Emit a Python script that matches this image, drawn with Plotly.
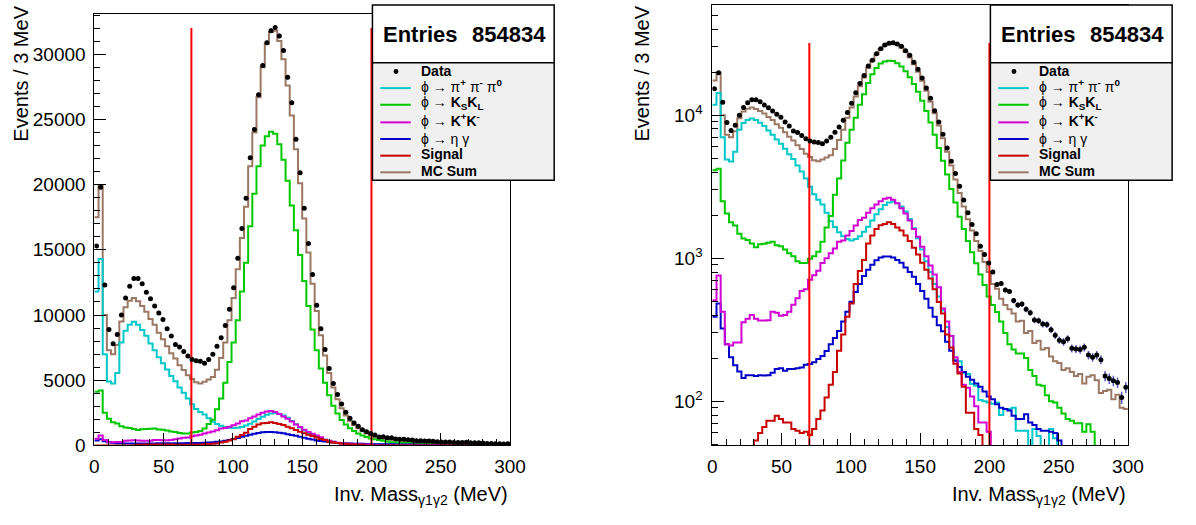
import numpy as np
import plotly.graph_objects as go

W, H = 1196, 525
BIN_WIDTH = 3.0          # MeV per bin
N_BINS = 100
ENTRIES = 854834
CUTS = [70, 200]         # MeV, vertical cut lines
CUT_TOP = 32000
LIN_MAX = 33100
LOG_MIN, LOG_MAX = 49, 59000
LIN_TICKS = [0, 5000, 10000, 15000, 20000, 25000, 30000]
X_TICKS = [0, 50, 100, 150, 200, 250, 300]
LOG_TICKS = [100, 1000, 10000]
LOG_TICK_TEXT = ["10<sup>2</sup>", "10<sup>3</sup>", "10<sup>4</sup>"]

# ---- data (events per 3 MeV bin, 0..300 MeV) ----
data_counts = [15300, 19800, 12300, 8900, 7800, 8500, 10000, 11300, 12200, 12800,
               12800, 12400, 11750, 11250, 10700, 10150, 9650, 8950, 8400, 7750,
               7550, 7200, 6850, 6600, 6500, 6450, 6300, 6600, 7000, 7600,
               8250, 9200, 10450, 12100, 14350, 16630, 18950, 22050, 24230, 26880,
               29130, 30880, 31800, 32050, 31400, 30280, 28230, 26280, 23480, 20900,
               18180, 15480, 13100, 10750, 8950, 7350, 5900, 4755, 3900, 3180,
               2550, 2080, 1720, 1480, 1210, 1060, 925, 800, 655, 665,
               600, 585, 505, 470, 478, 440, 415, 370, 365, 346,
               343, 316, 289, 267, 260, 273, 234, 232, 230, 238,
               210, 203, 210, 195, 150, 144, 139, 135, 106, 125]

pi3 = [11800, 14300, 7000, 4900, 4750, 5550, 7900, 8800, 9250, 9480,
       9250, 8860, 8410, 7820, 7300, 6760, 6300, 5830, 5330, 4930,
       4440, 4040, 3610, 3160, 2800, 2560, 2370, 2080, 1810, 1650,
       1520, 1420, 1360, 1330, 1360, 1420, 1530, 1660, 1830, 2030,
       2200, 2350, 2450, 2480, 2420, 2300, 2120, 1880, 1620, 1380,
       1150, 950, 800, 660, 540, 430, 330, 285, 195, 190,
       158, 155, 132, 128, 102, 100, 98, 96, 98, 80,
       88, 88, 90, 62, 62, 62, 40, 64, 57, 40,
       40, 64, 55, 0, 0, 0, 0, 0, 0, 0,
       0, 0, 0, 0, 0, 0, 0, 0, 0, 0]

kskl = [4110, 4220, 2500, 2050, 1780, 1690, 1480, 1370, 1340, 1265,
        1190, 1250, 1260, 1280, 1300, 1230, 1210, 1150, 1080, 1030,
        950, 925, 925, 990, 1030, 1110, 1300, 1640, 1970, 2780,
        3610, 4810, 6400, 7900, 9600, 11800, 14000, 16800, 19300, 21400,
        23000, 23700, 24050, 23900, 23100, 21900, 20300, 18400, 16500, 14600,
        12600, 10700, 8900, 7300, 5900, 4800, 3850, 3050, 2450, 1950,
        1600, 1320, 1100, 920, 770, 650, 540, 470, 420, 360,
        300, 250, 230, 215, 215, 200, 165, 150, 130, 128,
        110, 100, 98, 90, 82, 75, 73, 70, 70, 61,
        69, 61, 0, 0, 0, 0, 0, 0, 0, 0]

kpkm = [507, 757, 422, 250, 245, 257, 257, 357, 377, 400,
        377, 366, 366, 368, 422, 415, 396, 400, 422, 472,
        525, 590, 607, 705, 760, 815, 925, 1000, 1080, 1170,
        1300, 1330, 1440, 1550, 1690, 1850, 1920, 2080, 2230, 2370,
        2500, 2600, 2640, 2560, 2420, 2230, 2050, 1830, 1600, 1410,
        1200, 1030, 890, 770, 625, 445, 360, 285, 203, 160,
        130, 124, 108, 92, 71, 71, 61, 0, 0, 0,
        0, 0, 0, 0, 0, 0, 0, 0, 0, 0,
        0, 0, 0, 0, 0, 0, 0, 0, 0, 0,
        0, 0, 0, 0, 0, 0, 0, 0, 0, 0]

etag = [390, 481, 322, 250, 203, 178, 161, 145, 152, 152,
        150, 152, 151, 152, 158, 168, 170, 163, 168, 168,
        170, 172, 180, 182, 187, 197, 207, 224, 250, 277,
        310, 360, 422, 495, 580, 660, 750, 830, 900, 965,
        1010, 1027, 1027, 1010, 970, 930, 860, 800, 740, 660,
        590, 520, 450, 390, 340, 308, 260, 225, 192, 173,
        160, 148, 141, 133, 126, 117, 108, 103, 95, 90,
        88, 86, 79, 75, 75, 81, 71, 68, 64, 62,
        62, 61, 60, 53, 0, 0, 0, 0, 0, 0,
        0, 0, 0, 0, 0, 0, 0, 0, 0, 0]

signal = [0, 0, 0, 0, 0, 0, 0, 0, 0, 0,
          53, 60, 66, 73, 73, 79, 75, 71, 71, 64,
          62, 60, 61, 58, 64, 75, 86, 106, 130, 160,
          225, 293, 390, 481, 660, 812, 970, 1265, 1440, 1600,
          1700, 1730, 1780, 1730, 1640, 1560, 1440, 1320, 1180, 1060,
          930, 830, 720, 607, 493, 411, 293, 237, 183, 156,
          126, 83, 83, 64, 58, 0, 0, 0, 0, 0,
          0, 0, 0, 0, 0, 0, 0, 0, 0, 0,
          0, 0, 0, 0, 0, 0, 0, 0, 0, 0,
          0, 0, 0, 0, 0, 0, 0, 0, 0, 0]

mc_sum = [17500, 19900, 10000, 7300, 7000, 7700, 9500, 10600, 11100, 11300,
          11050, 10700, 10250, 9700, 9250, 8650, 8150, 7600, 7070, 6660,
          6150, 5790, 5380, 5100, 4840, 4760, 4890, 5050, 5240, 5800,
          6700, 7900, 9600, 11300, 13500, 15900, 18300, 21400, 24000, 26700,
          29000, 30800, 31700, 31800, 31000, 29600, 27600, 25300, 22700, 20100,
          17400, 14800, 12400, 10300, 8450, 6900, 5550, 4450, 3550, 2850,
          2300, 1870, 1560, 1320, 1120, 940, 800, 660, 610, 520,
          470, 440, 410, 360, 365, 300, 310, 255, 265, 230,
          235, 205, 190, 185, 165, 170, 160, 150, 155, 133,
          148, 152, 140, 114, 118, 120, 103, 111, 90, 88]

CYAN, GREEN, MAGENTA, BLUE, RED, BROWN = "#00c8c8", "#00c800", "#d200d2", "#0000c8", "#c80000", "#9a7864"
FONT = "Liberation Sans, Arial, Helvetica, sans-serif"

edges = np.arange(N_BINS + 1) * BIN_WIDTH
centers = edges[:-1] + BIN_WIDTH / 2

hists = [("MC Sum", mc_sum, BROWN), ("pi3", pi3, CYAN), ("kskl", kskl, GREEN),
         ("etag", etag, BLUE), ("kpkm", kpkm, MAGENTA), ("signal", signal, RED)]


def px(x):
    return x / W


def py(y):
    return 1 - y / H


fig = go.Figure()
for xa, ya, is_log in [("x", "y", False), ("x2", "y2", True)]:
    floor = LOG_MIN * 0.02 if is_log else 0
    for name, vals, col in hists:
        v = np.array(vals, dtype=float)
        if is_log:
            v = np.clip(v, floor, None)
        fig.add_trace(go.Scatter(x=edges, y=np.append(v, v[-1]), mode="lines",
                                 line=dict(color=col, width=2, shape="hv"),
                                 xaxis=xa, yaxis=ya, showlegend=False, hoverinfo="skip"))
    for c in CUTS:
        fig.add_trace(go.Scatter(x=[c, c], y=[LOG_MIN if is_log else 0, CUT_TOP], mode="lines",
                                 line=dict(color="#ff0000", width=2), xaxis=xa, yaxis=ya,
                                 showlegend=False, hoverinfo="skip"))
    d = np.array(data_counts, dtype=float)
    fig.add_trace(go.Scatter(x=centers, y=d, mode="markers",
                             marker=dict(color="black", size=5),
                             error_y=dict(type="data", array=np.sqrt(d), color="#5a5ad2",
                                          thickness=1.5, width=0),
                             xaxis=xa, yaxis=ya, showlegend=False, hoverinfo="skip"))

axis_common = dict(showline=True, linecolor="black", linewidth=1, mirror=True,
                   showgrid=False, zeroline=False, ticks="inside", tickcolor="black",
                   tickwidth=1, tickfont=dict(family=FONT, size=19, color="black"))

xcommon = dict(axis_common, range=[0, 300], tickmode="array",
               tickvals=X_TICKS, ticktext=[str(t) for t in X_TICKS], ticklen=12,
               minor=dict(tickmode="linear", tick0=0, dtick=10, ticks="inside",
                          ticklen=6, tickcolor="black", showgrid=False),
               ticklabelstandoff=4)

fig.update_layout(
    width=W, height=H, autosize=False,
    margin=dict(l=0, r=0, t=0, b=0),
    paper_bgcolor="white", plot_bgcolor="white",
    font=dict(family=FONT, color="black"),
    xaxis=dict(xcommon, domain=[px(91), px(514)], anchor="y"),
    yaxis=dict(axis_common, domain=[py(455), py(14)], anchor="x", range=[0, LIN_MAX],
               tickmode="array", tickvals=LIN_TICKS, ticktext=[str(t) for t in LIN_TICKS],
               ticklen=12, ticklabelstandoff=4,
               minor=dict(tickmode="linear", tick0=0, dtick=1000, ticks="inside",
                          ticklen=6, tickcolor="black", showgrid=False)),
    xaxis2=dict(xcommon, domain=[px(720), px(1143)], anchor="y2"),
    yaxis2=dict(axis_common, domain=[py(455), py(5)], anchor="x2", type="log",
                range=[np.log10(LOG_MIN), np.log10(LOG_MAX)],
                tickmode="array", tickvals=LOG_TICKS, ticktext=LOG_TICK_TEXT,
                ticklen=12, ticklabelstandoff=5,
                minor=dict(dtick="D1", ticks="inside", ticklen=6, tickcolor="black",
                           showgrid=False)),
)

legend_rows = [
    ("<b>Data</b>", "marker", "black", 73, 73),
    ("ϕ → π<sup><b>+</b></sup> π<sup><b>-</b></sup> π<sup><b>0</b></sup>", "line", CYAN, 90, 88),
    ("ϕ → <b>K<sub>S</sub>K<sub>L</sub></b>", "line", GREEN, 107, 105),
    ("ϕ → <b>K<sup>+</sup>K<sup>-</sup></b>", "line", MAGENTA, 125, 123),
    ("ϕ → η γ", "line", BLUE, 142, 142),
    ("<b>Signal</b>", "line", RED, 159, 157),
    ("<b>MC Sum</b>", "line", BROWN, 176, 175),
]

for off, frame_right, ytitle_x in [(0, 514, 16), (629, 1143, 648)]:
    bx0, bx1 = 374 + off, 559 + off
    # stats box
    fig.add_shape(type="rect", xref="paper", yref="paper", x0=px(bx0), x1=px(bx1),
                  y0=py(64), y1=py(5), fillcolor="white", line=dict(color="black", width=1.5))
    fig.add_annotation(xref="paper", yref="paper", x=px(bx0 + 9), y=py(35), xanchor="left",
                       yanchor="middle", text="<b>Entries</b>", showarrow=False,
                       font=dict(family=FONT, size=22, color="black"))
    fig.add_annotation(xref="paper", yref="paper", x=px(bx1 - 6), y=py(35), xanchor="right",
                       yanchor="middle", text=f"<b>{ENTRIES}</b>", showarrow=False,
                       font=dict(family=FONT, size=22, color="black"))
    # legend box
    fig.add_shape(type="rect", xref="paper", yref="paper", x0=px(bx0), x1=px(bx1),
                  y0=py(184), y1=py(64), fillcolor="#f0f0f0", line=dict(color="black", width=1.5))
    for text, kind, col, yl, yt in legend_rows:
        if kind == "line":
            fig.add_shape(type="line", xref="paper", yref="paper", x0=px(bx0 + 8), x1=px(bx0 + 39),
                          y0=py(yl), y1=py(yl), line=dict(color=col, width=2))
        else:
            fig.add_shape(type="circle", xref="paper", yref="paper",
                          x0=px(bx0 + 21.5), x1=px(bx0 + 26.5), y0=py(yl + 2.5), y1=py(yl - 2.5),
                          fillcolor="black", line=dict(color="black", width=0))
        fig.add_annotation(xref="paper", yref="paper", x=px(bx0 + 47), y=py(yt), xanchor="left",
                           yanchor="middle", text=text, showarrow=False,
                           font=dict(family=FONT, size=14, color="black"))
    # axis titles
    fig.add_annotation(xref="paper", yref="paper", x=px(frame_right), y=py(506), xanchor="right",
                       yanchor="middle", text="Inv. Mass<sub>γ1γ2</sub> (MeV)", showarrow=False,
                       font=dict(family=FONT, size=20, color="black"))
    fig.add_annotation(xref="paper", yref="paper", x=px(ytitle_x), y=py(4), xanchor="center",
                       yanchor="top", text="Events / 3 MeV", textangle=-90, showarrow=False,
                       font=dict(family=FONT, size=20, color="black"))

fig.write_html("out.html", config={"displayModeBar": False},
               post_script="document.body.style.margin='0';document.body.style.overflow='hidden';")
